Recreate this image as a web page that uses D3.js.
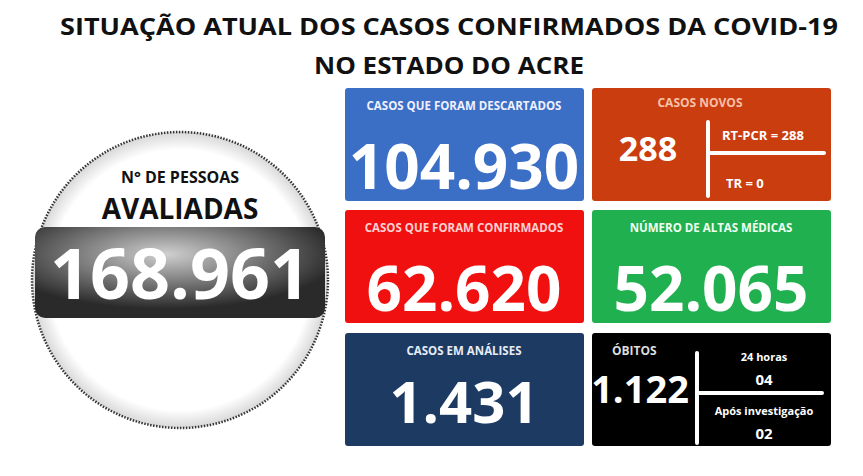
<!DOCTYPE html>
<html><head><meta charset="utf-8">
<script src="https://cdn.jsdelivr.net/npm/d3@7"></script>
<style>body{margin:0;background:#fff}svg{display:block}text{font-family:"Open Sans",sans-serif;font-weight:700}</style>
</head><body><svg id="c" width="863" height="476"></svg>
<script>
const titleLines = ["SITUAÇÃO ATUAL DOS CASOS CONFIRMADOS DA COVID-19", "NO ESTADO DO ACRE"];
const boxLabels = ["CASOS QUE FORAM DESCARTADOS", "CASOS NOVOS", "CASOS QUE FORAM CONFIRMADOS", "NÚMERO DE ALTAS MÉDICAS", "CASOS EM ANÁLISES", "ÓBITOS"];
const boxValues = ["104.930", "288", "62.620", "52.065", "1.431", "1.122"];
const avaliadas = "168.961";
const novosSplit = ["RT-PCR = 288", "TR = 0"];
const obitosSplit = [["24 horas", "04"], ["Após investigação", "02"]];

const svg = d3.select("#c");
const defs = svg.append("defs");
svg.selectAll(".t").data(titleLines).join("text").attr("x", 449).attr("y", (d,i)=>[35,74][i])
  .attr("text-anchor","middle").attr("font-size",24).attr("fill","#111")
  .attr("textLength",(d,i)=>[778,270][i]).attr("lengthAdjust","spacingAndGlyphs").text(d=>d);

// circle
const rg = defs.append("radialGradient").attr("id","cg");
rg.append("stop").attr("offset","88%").attr("stop-color","#fff");
rg.append("stop").attr("offset","100%").attr("stop-color","#d8d8d8");
svg.append("circle").attr("cx",180).attr("cy",280).attr("r",148).attr("fill","url(#cg)")
  .attr("stroke","#333").attr("stroke-width",2.5).attr("stroke-dasharray","1.5 1.5");
const bg = defs.append("radialGradient").attr("id","bg").attr("cx","45%").attr("cy","30%").attr("r","60%");
bg.append("stop").attr("offset","0%").attr("stop-color","#d0d0d0");
bg.append("stop").attr("offset","100%").attr("stop-color","#2a2a2a");
svg.append("rect").attr("x",35).attr("y",227).attr("width",290).attr("height",91).attr("rx",10).attr("fill","url(#bg)");
svg.append("text").attr("x",180).attr("y",183).attr("text-anchor","middle").attr("font-size",16).attr("fill","#111").text("N° DE PESSOAS");
svg.append("text").attr("x",180).attr("y",219).attr("text-anchor","middle").attr("font-size",28).attr("fill","#111").text("AVALIADAS");
svg.append("text").attr("x",180).attr("y",299).attr("text-anchor","middle").attr("font-size",70).attr("fill","#fff").text(avaliadas);

// boxes
const colX = d3.scaleOrdinal().domain([0,1]).range([345,592]);
const rowY = d3.scaleOrdinal().domain([0,1,2]).range([88,210,333]);
const fills = ["#3b6fc6","#c93d0f","#f01010","#20b04f","#1d3a63","#000"];
const labCol = ["#f0f0ff","#f7c0a8","#ffd0d0","#f0fff0","#e6ecf5","#ddd"];
const boxes = boxLabels.map((l,i)=>({l,v:boxValues[i],i,x:colX(i%2),y:rowY(Math.floor(i/2))}));
const g = svg.selectAll(".b").data(boxes).join("g").attr("transform",d=>`translate(${d.x},${d.y})`);
g.append("rect").attr("width",239).attr("height",113).attr("rx",3).attr("fill",(d,i)=>fills[i]);
g.filter(d=>d.i%2===0||d.i===3).each(function(d){
  const s=d3.select(this);
  s.append("text").attr("x",119).attr("y",22).attr("text-anchor","middle").attr("font-size",11.5).attr("fill",labCol[d.i]).text(d.l);
  s.append("text").attr("x",119).attr("y",d.i===4?90:101).attr("text-anchor","middle").attr("font-size",d.i===4?58:62).attr("fill","#fff").text(d.v);
});
// casos novos
const n = g.filter(d=>d.i===1);
n.append("text").attr("x",108).attr("y",19).attr("text-anchor","middle").attr("font-size",12).attr("fill","#f7c0a8").text(d=>d.l);
n.append("text").attr("x",56).attr("y",73).attr("text-anchor","middle").attr("font-size",34).attr("fill","#fff").text(d=>d.v);
n.append("path").attr("d","M116,34V108M116,65H232").attr("stroke","#fff").attr("stroke-width",4).attr("stroke-linecap","round").attr("fill","none");
n.append("text").attr("x",130).attr("y",52).attr("font-size",13).attr("fill","#fff").text(novosSplit[0]);
n.append("text").attr("x",134).attr("y",100).attr("font-size",13).attr("fill","#fff").text(novosSplit[1]);
// obitos
const o = g.filter(d=>d.i===5);
o.append("text").attr("x",20).attr("y",22).attr("font-size",12).attr("fill","#ddd").text(d=>d.l);
o.append("text").attr("x",48).attr("y",70).attr("text-anchor","middle").attr("font-size",38).attr("fill","#fff").text(d=>d.v);
o.append("path").attr("d","M105,20V110M105,60H230").attr("stroke","#fff").attr("stroke-width",4).attr("stroke-linecap","round").attr("fill","none");
obitosSplit.forEach((p,k)=>{
  o.append("text").attr("x",172).attr("y",[28,82][k]).attr("text-anchor","middle").attr("font-size",11).attr("fill","#fff").text(p[0]);
  o.append("text").attr("x",172).attr("y",[52,106][k]).attr("text-anchor","middle").attr("font-size",15).attr("fill","#fff").text(p[1]);
});
</script></body></html>
